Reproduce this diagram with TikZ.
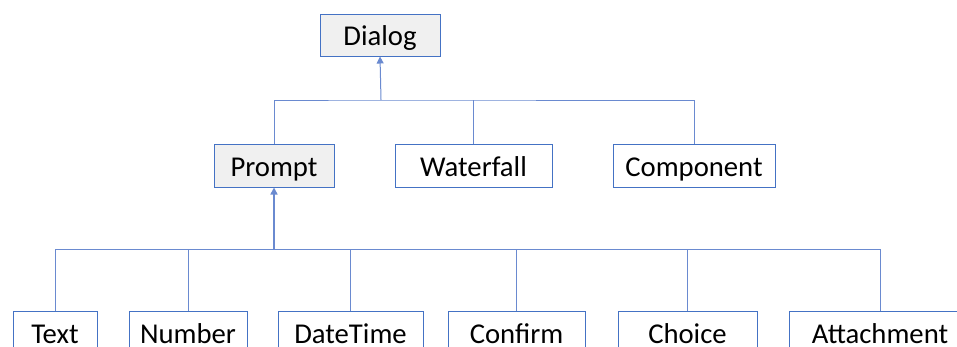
\documentclass[tikz,border=0pt]{standalone}
\usepackage{fontspec}
\setmainfont{Carlito}
\usetikzlibrary{arrows.meta}
\definecolor{boxblue}{HTML}{4472C4}
\definecolor{lineblue}{HTML}{6A8AD0}
\definecolor{boxgray}{HTML}{F0F0F0}
\begin{document}
\begin{tikzpicture}[x=1pt,y=-1pt,
  cls/.style={draw=boxblue, line width=1pt, rectangle, inner sep=0pt,
    minimum height=43pt, text height=21pt, text depth=0pt,
    font=\fontsize{28.7}{30}\selectfont},
  base/.style={cls, fill=boxgray},
  conn/.style={draw=lineblue, line width=1pt},
  arr/.style={conn, -{Triangle[length=7pt,width=7pt]}}]
\useasboundingbox (0,0) rectangle (957,346);
\begin{scope}
\clip (0,0) rectangle (957,346);
\node[base, minimum width=120pt, minimum height=42pt] (Dialog) at (380,35) {Dialog};
\node[base, minimum width=120pt] (Prompt) at (274,165.5) {Prompt};
\node[cls, minimum width=157pt] (Waterfall) at (473.5,165.5) {Waterfall};
\node[cls, minimum width=162pt] (Component) at (694,165.5) {Component};
\node[cls, minimum width=84pt] (Text) at (55,332.5) {Text};
\node[cls, minimum width=118pt] (Number) at (188,332.5) {Number};
\node[cls, minimum width=145pt] (DateTime) at (350.5,332.5) {DateTime};
\node[cls, minimum width=137pt] (Confirm) at (516.5,332.5) {Confirm};
\node[cls, minimum width=139pt] (Choice) at (687.5,332.5) {Choice};
\node[cls, minimum width=182pt] (Attachment) at (880,332.5) {Attachment};
\coordinate (bus1) at (381,100);
\coordinate (bus2) at (274,249.5);
\draw[conn] (Prompt.north) |- (bus1) -| (Component.north);
\draw[conn] (Waterfall.north) -- (Waterfall.north |- bus1);
\draw[arr] (bus1) -- (Dialog.south);
\draw[conn] (Text.north) |- (bus2) -| (Attachment.north);
\draw[conn] (Number.north) -- (Number.north |- bus2);
\draw[conn] (DateTime.north) -- (DateTime.north |- bus2);
\draw[conn] (Confirm.north) -- (Confirm.north |- bus2);
\draw[conn] (Choice.north) -- (Choice.north |- bus2);
\draw[arr, line width=1.5pt] (bus2) -- (Prompt.south);
\end{scope}
\end{tikzpicture}
\end{document}
